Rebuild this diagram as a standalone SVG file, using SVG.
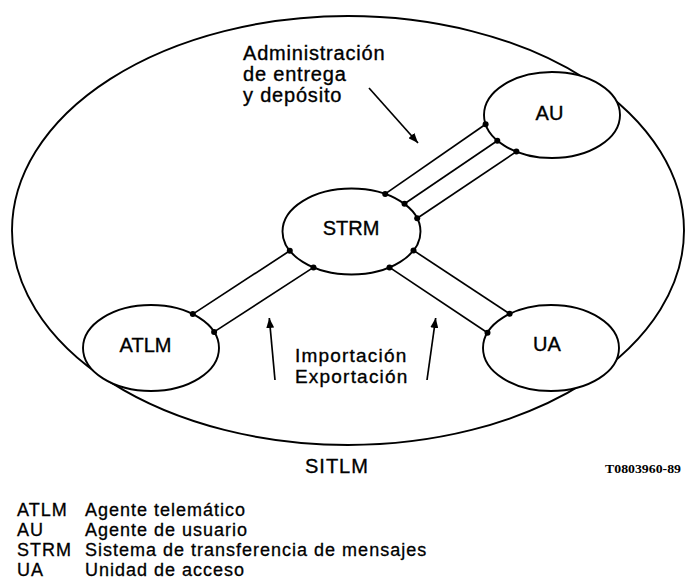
<svg xmlns="http://www.w3.org/2000/svg" width="687" height="581" viewBox="0 0 687 581">
<defs>
<style>
.shape{fill:none;stroke:#000;stroke-width:1.9}
.node{fill:#fff;stroke:#000;stroke-width:1.9}
.ln{stroke:#000;stroke-width:1.7;fill:none}
.dot{fill:#000}
.lbl{font-family:"Liberation Sans",Arial,sans-serif;font-size:20px;fill:#000;stroke:#000;stroke-width:0.35}
.leg{font-family:"Liberation Sans",Arial,sans-serif;font-size:18px;fill:#000;letter-spacing:1px;stroke:#000;stroke-width:0.3}
.ref{font-family:"Liberation Serif","Times New Roman",serif;font-size:13.5px;font-weight:bold;fill:#000}
</style>
<marker id="ah" viewBox="0 0 10 8" refX="10" refY="4" markerWidth="10" markerHeight="8" markerUnits="userSpaceOnUse" orient="auto">
<path d="M0,0 L10,4 L0,8 Z" fill="#000"/>
</marker>
</defs>
<rect width="687" height="581" fill="#fff"/>
<g id="SITLM">
<ellipse class="shape" cx="348" cy="230.5" rx="336" ry="214.5"/>
<text class="lbl" x="305" y="473" style="letter-spacing:1px">SITLM</text>
</g>
<g id="connectors">
<line class="ln" x1="385.2" y1="193.9" x2="485.6" y2="124.3"/>
<line class="ln" x1="404.5" y1="203.8" x2="497.3" y2="140.7"/>
<line class="ln" x1="417.2" y1="218.3" x2="516.4" y2="151.6"/>
<line class="ln" x1="289.8" y1="250.8" x2="192.8" y2="314.1"/>
<line class="ln" x1="313.5" y1="267.4" x2="214.1" y2="331.9"/>
<line class="ln" x1="413.5" y1="250.4" x2="509.6" y2="313.7"/>
<line class="ln" x1="389.5" y1="267.4" x2="487.5" y2="332.7"/>
<line class="ln" x1="369" y1="88" x2="418" y2="143" marker-end="url(#ah)"/>
<line class="ln" x1="275" y1="380" x2="269.3" y2="318" marker-end="url(#ah)"/>
<line class="ln" x1="427" y1="380" x2="435.7" y2="318" marker-end="url(#ah)"/>
</g>
<g id="AU">
<ellipse class="node" cx="552" cy="115" rx="68" ry="43"/>
<text class="lbl" x="549.5" y="120" text-anchor="middle">AU</text>
</g>
<g id="STRM">
<ellipse class="node" cx="351.5" cy="231.5" rx="69" ry="43"/>
<text class="lbl" x="351" y="235" text-anchor="middle">STRM</text>
</g>
<g id="ATLM">
<ellipse class="node" cx="151" cy="348" rx="68" ry="43"/>
<text class="lbl" x="145.5" y="352" text-anchor="middle">ATLM</text>
</g>
<g id="UA">
<ellipse class="node" cx="551" cy="348" rx="68" ry="43"/>
<text class="lbl" x="547" y="351" text-anchor="middle">UA</text>
</g>
<g id="dots">
<circle class="dot" cx="385.2" cy="193.9" r="3"/>
<circle class="dot" cx="485.6" cy="124.3" r="3"/>
<circle class="dot" cx="404.5" cy="203.8" r="3"/>
<circle class="dot" cx="497.3" cy="140.7" r="3"/>
<circle class="dot" cx="417.2" cy="218.3" r="3"/>
<circle class="dot" cx="516.4" cy="151.6" r="3"/>
<circle class="dot" cx="289.8" cy="250.8" r="3"/>
<circle class="dot" cx="192.8" cy="314.1" r="3"/>
<circle class="dot" cx="313.5" cy="267.4" r="3"/>
<circle class="dot" cx="214.1" cy="331.9" r="3"/>
<circle class="dot" cx="413.5" cy="250.4" r="3"/>
<circle class="dot" cx="509.6" cy="313.7" r="3"/>
<circle class="dot" cx="389.5" cy="267.4" r="3"/>
<circle class="dot" cx="487.5" cy="332.7" r="3"/>
</g>
<g id="labels">
<text class="lbl" x="243" y="60" style="letter-spacing:0.8px">Administración</text>
<text class="lbl" x="243" y="81" style="letter-spacing:0.8px">de entrega</text>
<text class="lbl" x="243" y="102" style="letter-spacing:0.8px">y depósito</text>
<text class="lbl" x="295" y="362" style="font-size:19px;letter-spacing:1.2px">Importación</text>
<text class="lbl" x="295" y="383" style="font-size:19px;letter-spacing:1.2px">Exportación</text>
<text class="ref" x="605" y="473" textLength="76" lengthAdjust="spacingAndGlyphs">T0803960-89</text>
</g>
<g id="legend">
<text class="leg" x="17" y="516">ATLM</text>
<text class="leg" x="85" y="516">Agente telemático</text>
<text class="leg" x="17" y="536">AU</text>
<text class="leg" x="85" y="536">Agente de usuario</text>
<text class="leg" x="17" y="556">STRM</text>
<text class="leg" x="85" y="556">Sistema de transferencia de mensajes</text>
<text class="leg" x="17" y="576">UA</text>
<text class="leg" x="85" y="576">Unidad de acceso</text>
</g>
</svg>
